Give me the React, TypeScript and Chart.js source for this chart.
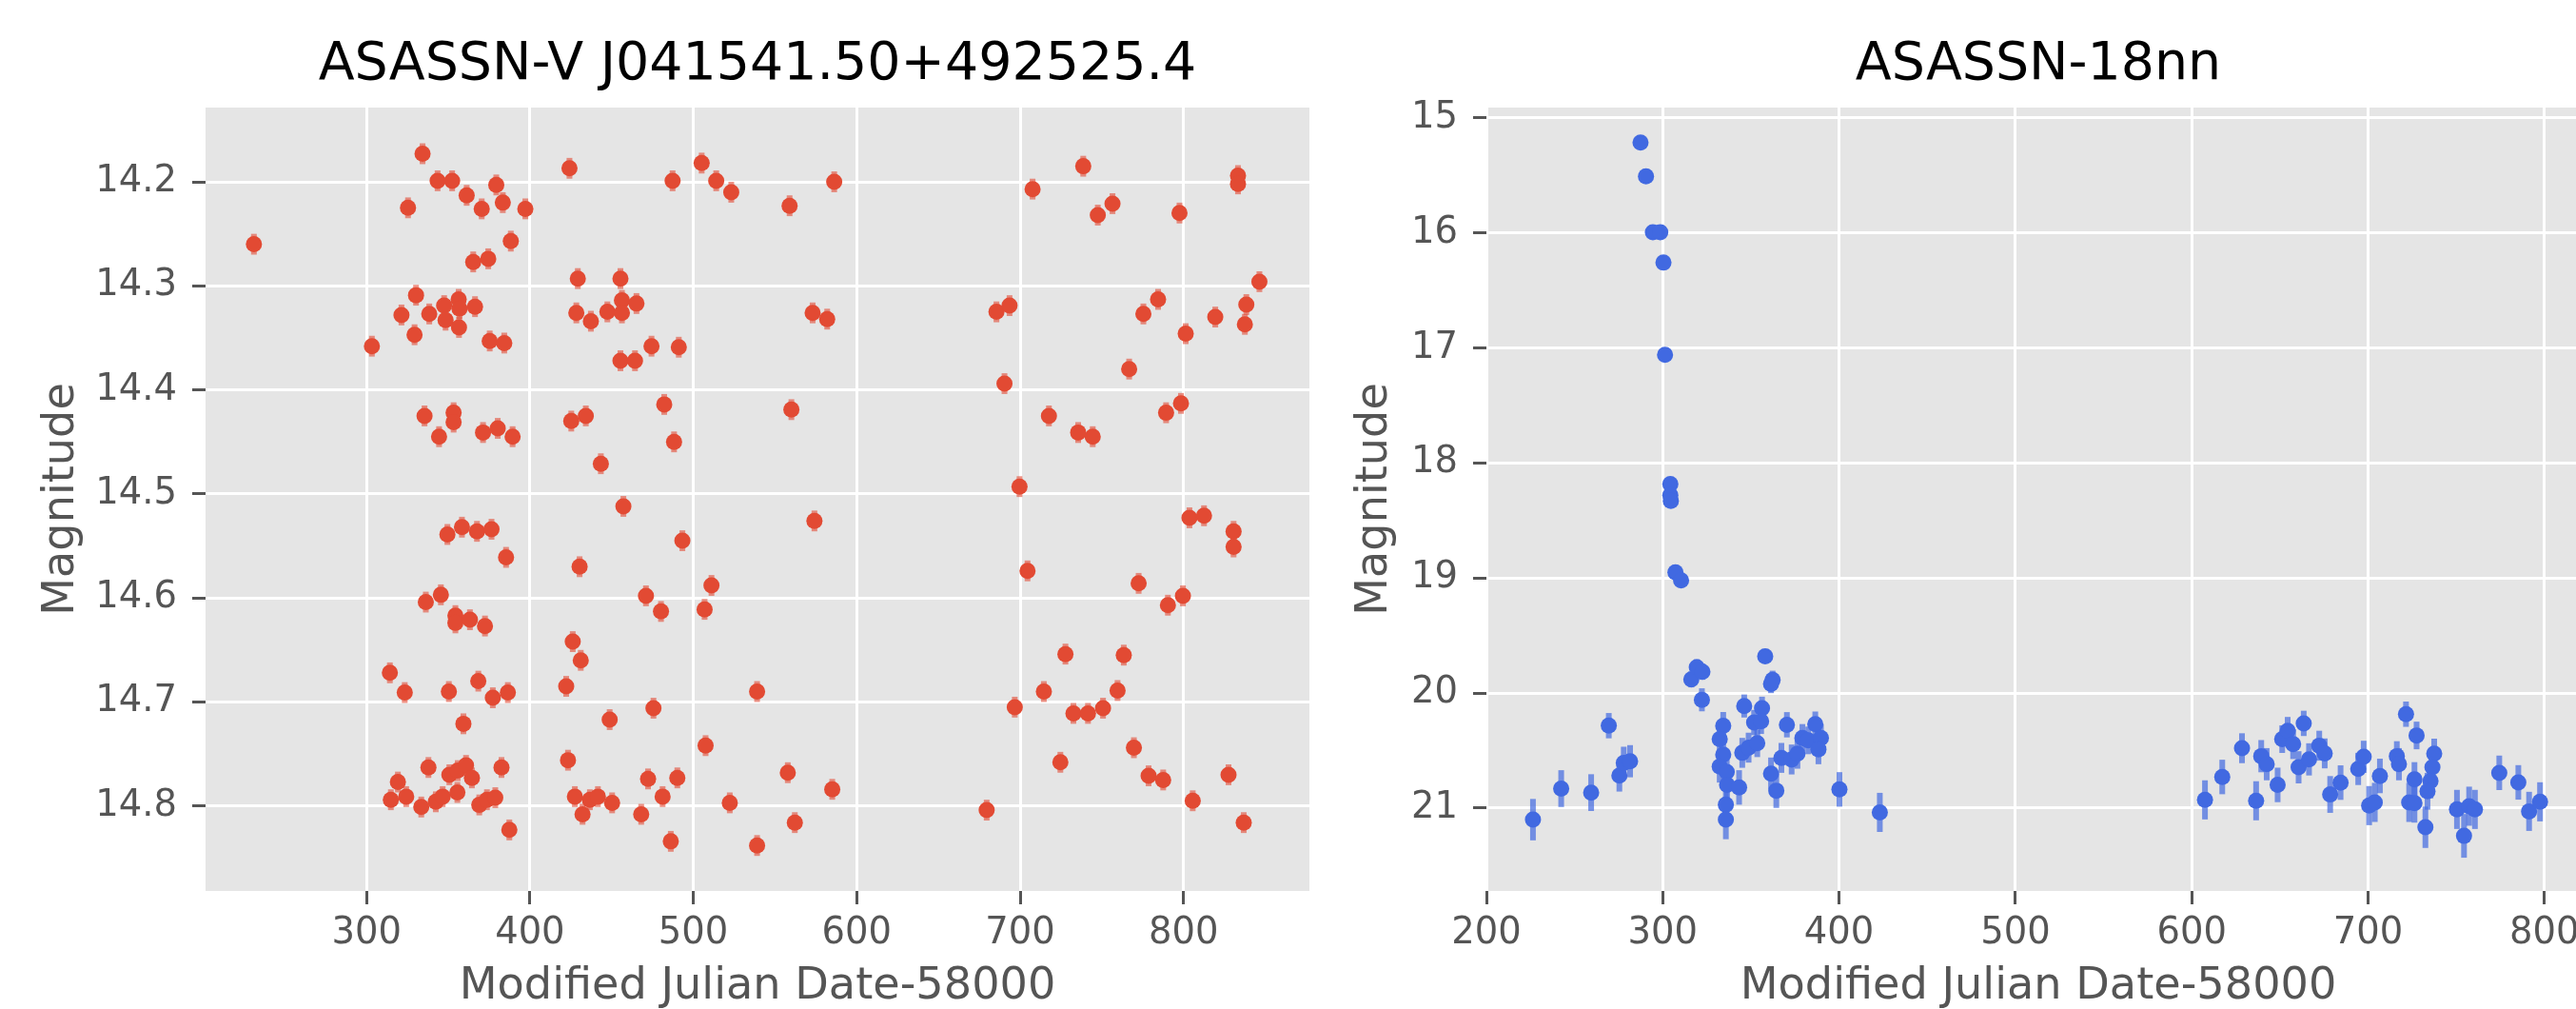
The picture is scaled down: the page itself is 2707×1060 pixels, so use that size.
import React, { useEffect, useRef } from 'react';
import { Chart, registerables } from 'chart.js';

Chart.register(...registerables);

// ---------- text ----------
const leftTitle = 'ASASSN-V J041541.50+492525.4';
const rightTitle = 'ASASSN-18nn';
const xLabel = 'Modified Julian Date-58000';
const yLabel = 'Magnitude';

// ---------- left panel data ----------
const leftMjd = [
  231.1, 334.3, 325.4, 343.5, 352.4, 361.3, 370.5, 379.4, 383.4, 397.2,
  388.3, 365.3, 374.5, 424.2, 429.3, 455.4, 487.3, 505.1, 514.0, 523.2,
  330.3, 321.4, 338.4, 347.5, 356.4, 356.9, 366.4, 348.4, 329.4, 356.6,
  303.3, 375.4, 384.3, 428.4, 437.3, 447.4, 456.3, 456.3, 465.2, 455.4,
  464.3, 474.4, 491.1, 335.5, 353.3, 353.3, 344.4, 371.3, 380.3, 389.4,
  425.3, 434.2, 443.4, 482.2, 488.2, 558.9, 586.2, 707.6, 738.6, 747.5,
  756.5, 797.5, 833.3, 833.3, 846.4, 573.0, 581.9, 685.5, 693.5, 775.4,
  784.4, 819.4, 838.4, 837.5, 801.3, 766.7, 690.4, 560.0, 717.6, 735.5,
  744.4, 789.3, 798.4, 699.6,
  457.2, 349.5, 358.4, 367.6, 376.5, 385.4, 430.4, 493.3, 511.1, 471.0,
  480.2, 506.9, 336.3, 345.5, 354.4, 354.4, 363.3, 372.5, 426.2, 431.1,
  314.3, 323.4, 350.4, 368.4, 377.3, 386.5, 422.2, 539.0, 359.3, 448.8,
  475.6, 507.5, 337.9, 319.2, 314.9, 324.3, 333.5, 342.4, 346.6, 350.7,
  355.8, 360.9, 364.5, 355.6, 369.0, 373.7, 378.8, 382.6, 387.4, 423.3,
  427.5, 432.2, 436.7, 441.6, 450.3, 468.1, 472.3, 481.2, 490.2, 486.2,
  522.3, 539.0,
  574.1, 803.6, 812.5, 830.6, 830.6, 704.5, 772.5, 799.6, 790.4, 727.7,
  763.4, 714.5, 759.6, 696.7, 732.6, 741.5, 750.7, 769.6, 724.6, 778.6,
  787.5, 827.5, 805.6, 836.8, 557.8, 562.1, 585.0, 679.5,
];
const leftMag = [
  14.260, 14.173, 14.225, 14.199, 14.199, 14.213, 14.226, 14.203, 14.220, 14.226,
  14.257, 14.277, 14.274, 14.187, 14.293, 14.293, 14.199, 14.182, 14.199, 14.210,
  14.309, 14.328, 14.327, 14.319, 14.313, 14.322, 14.320, 14.333, 14.347, 14.340,
  14.358, 14.353, 14.355, 14.326, 14.334, 14.325, 14.314, 14.326, 14.317, 14.372,
  14.372, 14.358, 14.359, 14.425, 14.422, 14.431, 14.445, 14.441, 14.437, 14.445,
  14.430, 14.425, 14.471, 14.414, 14.450, 14.223, 14.200, 14.207, 14.185, 14.232,
  14.221, 14.230, 14.194, 14.202, 14.296, 14.326, 14.332, 14.325, 14.319, 14.327,
  14.313, 14.330, 14.318, 14.337, 14.346, 14.380, 14.394, 14.419, 14.425, 14.441,
  14.445, 14.422, 14.413, 14.493,
  14.512, 14.539, 14.532, 14.536, 14.534, 14.561, 14.570, 14.545, 14.588, 14.598,
  14.613, 14.611, 14.604, 14.597, 14.617, 14.624, 14.621, 14.627, 14.642, 14.660,
  14.672, 14.691, 14.690, 14.680, 14.696, 14.691, 14.685, 14.690, 14.721, 14.717,
  14.706, 14.742, 14.763, 14.777, 14.794, 14.791, 14.801, 14.796, 14.791, 14.770,
  14.766, 14.761, 14.773, 14.787, 14.799, 14.794, 14.792, 14.763, 14.823, 14.756,
  14.791, 14.808, 14.794, 14.791, 14.797, 14.808, 14.774, 14.791, 14.773, 14.834,
  14.797, 14.838,
  14.526, 14.523, 14.521, 14.536, 14.551, 14.574, 14.586, 14.598, 14.607, 14.654,
  14.655, 14.690, 14.689, 14.705, 14.711, 14.711, 14.706, 14.744, 14.758, 14.771,
  14.775, 14.770, 14.795, 14.816, 14.768, 14.816, 14.784, 14.804,
];
const leftErr = [
  0.010, 0.010, 0.010, 0.010, 0.010, 0.010, 0.010, 0.010, 0.010, 0.010,
  0.010, 0.010, 0.010, 0.010, 0.010, 0.010, 0.010, 0.010, 0.010, 0.010,
  0.010, 0.010, 0.010, 0.010, 0.010, 0.010, 0.010, 0.010, 0.010, 0.010,
  0.010, 0.010, 0.010, 0.010, 0.010, 0.010, 0.010, 0.010, 0.010, 0.010,
  0.010, 0.010, 0.010, 0.010, 0.010, 0.010, 0.010, 0.010, 0.010, 0.010,
  0.010, 0.010, 0.010, 0.010, 0.010, 0.010, 0.010, 0.010, 0.010, 0.010,
  0.010, 0.010, 0.010, 0.010, 0.010, 0.010, 0.010, 0.010, 0.010, 0.010,
  0.010, 0.010, 0.010, 0.010, 0.010, 0.010, 0.010, 0.010, 0.010, 0.010,
  0.010, 0.010, 0.010, 0.010,
  0.010, 0.010, 0.010, 0.010, 0.010, 0.010, 0.010, 0.010, 0.010, 0.010,
  0.010, 0.010, 0.010, 0.010, 0.010, 0.010, 0.010, 0.010, 0.010, 0.010,
  0.010, 0.010, 0.010, 0.010, 0.010, 0.010, 0.010, 0.010, 0.010, 0.010,
  0.010, 0.010, 0.010, 0.010, 0.010, 0.010, 0.010, 0.010, 0.010, 0.010,
  0.010, 0.010, 0.010, 0.010, 0.010, 0.010, 0.010, 0.010, 0.010, 0.010,
  0.010, 0.010, 0.010, 0.010, 0.010, 0.010, 0.010, 0.010, 0.010, 0.010,
  0.010, 0.010,
  0.010, 0.010, 0.010, 0.010, 0.010, 0.010, 0.010, 0.010, 0.010, 0.010,
  0.010, 0.010, 0.010, 0.010, 0.010, 0.010, 0.010, 0.010, 0.010, 0.010,
  0.010, 0.010, 0.010, 0.010, 0.010, 0.010, 0.010, 0.010,
];
const leftXTicks = [300, 400, 500, 600, 700, 800];
const leftYTicks = [14.2, 14.3, 14.4, 14.5, 14.6, 14.7, 14.8];

// ---------- right panel data ----------
const rightMjd = [
  287.4, 290.5, 294.4, 298.6, 300.4, 301.3, 304.3, 304.3, 304.6, 307.2,
  310.4, 226.4, 242.4, 259.4, 269.4, 275.4, 277.9, 281.5, 316.2, 319.3,
  322.5, 322.2, 358.1, 362.3, 361.4, 346.2, 356.3, 334.3, 332.3, 334.3,
  332.3, 336.3, 336.5, 343.3, 335.8, 335.8, 351.8, 355.8, 345.1, 348.7,
  353.6, 361.4, 364.4, 367.3, 373.1, 376.4, 370.4, 379.2, 382.5, 386.5,
  389.7, 388.3, 400.2, 423.1,
  607.5, 617.3, 628.5, 636.5, 639.4, 642.5, 648.7, 651.3, 654.4, 657.5,
  660.6, 663.5, 666.5, 672.3, 675.4, 678.5, 684.4, 694.4, 697.5, 700.6,
  703.8, 706.7, 716.3, 717.5, 721.5, 727.5, 723.3, 726.3, 726.3, 737.5,
  736.5, 735.4, 733.7, 732.5, 750.4, 757.3, 760.6, 754.4, 774.4, 785.2,
  791.3, 797.5,
];
const rightMag = [
  15.213, 15.508, 15.994, 15.994, 16.257, 17.058, 18.182, 18.28, 18.33, 18.95,
  19.02, 21.10, 20.83, 20.865, 20.283, 20.716, 20.606, 20.592, 19.88, 19.775,
  19.814, 20.058, 19.68, 19.885, 19.92, 20.112, 20.131, 20.284, 20.40, 20.535,
  20.638, 20.685, 20.798, 20.82, 20.97, 21.10, 20.256, 20.245, 20.519, 20.474,
  20.436, 20.70, 20.848, 20.563, 20.577, 20.527, 20.275, 20.389, 20.411, 20.27,
  20.389, 20.488, 20.837, 21.037,
  20.928, 20.729, 20.479, 20.936, 20.548, 20.618, 20.798, 20.40, 20.327, 20.443,
  20.645, 20.263, 20.576, 20.457, 20.524, 20.881, 20.778, 20.659, 20.554, 20.978,
  20.95, 20.72, 20.548, 20.618, 20.183, 20.368, 20.95, 20.956, 20.75, 20.526,
  20.645, 20.765, 20.853, 21.166, 21.011, 20.983, 21.011, 21.241, 20.693, 20.776,
  21.028, 20.945,
];
const rightErr = [
  0.01, 0.01, 0.01, 0.01, 0.015, 0.02, 0.03, 0.03, 0.03, 0.04,
  0.04, 0.18, 0.16, 0.16, 0.11, 0.14, 0.14, 0.14, 0.07, 0.07,
  0.07, 0.10, 0.05, 0.08, 0.08, 0.10, 0.10, 0.12, 0.12, 0.13,
  0.14, 0.14, 0.15, 0.15, 0.16, 0.17, 0.11, 0.11, 0.13, 0.13,
  0.12, 0.14, 0.15, 0.13, 0.13, 0.13, 0.11, 0.12, 0.12, 0.11,
  0.12, 0.13, 0.15, 0.17,
  0.17, 0.15, 0.13, 0.17, 0.14, 0.14, 0.15, 0.12, 0.12, 0.13,
  0.14, 0.11, 0.14, 0.13, 0.13, 0.16, 0.15, 0.14, 0.14, 0.17,
  0.17, 0.15, 0.13, 0.14, 0.11, 0.12, 0.17, 0.17, 0.15, 0.13,
  0.14, 0.15, 0.16, 0.18, 0.17, 0.17, 0.17, 0.19, 0.15, 0.15,
  0.17, 0.17,
];
const rightXTicks = [200, 300, 400, 500, 600, 700, 800];
const rightYTicks = [15, 16, 17, 18, 19, 20, 21];

// ---------- styling ----------
const FONT = 'DejaVu Sans';
const GRAY_TEXT = '#555555';
const PANEL_BG = '#E5E5E5';

const panelBgPlugin = {
  id: 'panelBg',
  beforeDraw(chart: any, _args: any, opts: any) {
    const { ctx, chartArea: a } = chart;
    ctx.save();
    ctx.fillStyle = opts.color || PANEL_BG;
    ctx.fillRect(a.left, a.top, a.right - a.left, a.bottom - a.top);
    ctx.restore();
  },
};

const errorBarPlugin = {
  id: 'errorBars',
  beforeDatasetsDraw(chart: any, _args: any, opts: any) {
    const { ctx, chartArea: a, scales } = chart;
    const errs: number[] = opts.errors || [];
    const ds = chart.data.datasets[0];
    if (!ds) return;
    ctx.save();
    ctx.beginPath();
    ctx.rect(a.left, a.top, a.right - a.left, a.bottom - a.top);
    ctx.clip();
    ctx.strokeStyle = opts.color;
    ctx.lineWidth = opts.width;
    ctx.lineCap = 'butt';
    (ds.data as any[]).forEach((p, i) => {
      const e = errs[i] || 0;
      const x = scales.x.getPixelForValue(p.x);
      const y1 = scales.y.getPixelForValue(p.y - e);
      const y2 = scales.y.getPixelForValue(p.y + e);
      ctx.beginPath();
      ctx.moveTo(x, y1);
      ctx.lineTo(x, y2);
      ctx.stroke();
    });
    ctx.restore();
  },
};

type PanelProps = {
  left: number;
  width: number;
  height: number;
  title: string;
  xs: number[];
  ys: number[];
  errs: number[];
  xTicks: number[];
  yTicks: number[];
  xMin: number;
  xMax: number;
  yMin: number;
  yMax: number;
  color: string;
  errColor: string;
  yAxisWidth: number;
  yTitlePad: number;
  rightPad: number;
  yDecimals: number;
};

function Panel(p: PanelProps) {
  const ref = useRef<HTMLCanvasElement | null>(null);
  useEffect(() => {
    if (!ref.current) return;
    const points = p.xs.map((x, i) => ({ x, y: p.ys[i] }));
    const chart = new Chart(ref.current, {
      type: 'scatter',
      data: {
        datasets: [
          {
            data: points,
            pointRadius: 8.5,
            pointHoverRadius: 8.5,
            pointBackgroundColor: p.color,
            pointBorderWidth: 0,
            pointBorderColor: p.color,
            showLine: false,
          },
        ],
      },
      options: {
        responsive: false,
        animation: false,
        devicePixelRatio: 1,
        events: [],
        layout: { padding: { left: 0, right: p.rightPad, top: 0, bottom: 0 } },
        plugins: {
          legend: { display: false },
          tooltip: { enabled: false },
          title: {
            display: true,
            fullSize: false,
            align: 'center',
            text: p.title,
            color: '#000000',
            font: { family: FONT, size: 55.4, weight: 'normal', lineHeight: 1.2 },
            padding: { top: 35.2, bottom: 11.3 },
          },
          panelBg: { color: PANEL_BG },
          errorBars: { errors: p.errs, color: p.errColor, width: 6 },
        } as any,
        scales: {
          x: {
            type: 'linear',
            min: p.xMin,
            max: p.xMax,
            afterBuildTicks: (scale: any) => {
              scale.ticks = p.xTicks.map((v) => ({ value: v }));
            },
            afterFit: (scale: any) => {
              scale.height = 124;
            },
            ticks: {
              autoSkip: false,
              maxRotation: 0,
              color: GRAY_TEXT,
              font: { family: FONT, size: 38.5 },
              padding: 7.9,
              callback: (v: any) => String(v),
            },
            grid: {
              color: '#FFFFFF',
              lineWidth: 3,
              drawTicks: true,
              tickLength: 14,
              tickWidth: 3,
              tickColor: GRAY_TEXT,
            },
            border: { display: false },
            title: {
              display: true,
              text: xLabel,
              color: GRAY_TEXT,
              font: { family: FONT, size: 46.2, lineHeight: 1.0 },
              padding: { top: 0, bottom: 0 },
            },
          },
          y: {
            type: 'linear',
            reverse: true,
            min: p.yMin,
            max: p.yMax,
            afterBuildTicks: (scale: any) => {
              scale.ticks = p.yTicks.map((v) => ({ value: v }));
            },
            afterFit: (scale: any) => {
              scale.width = p.yAxisWidth;
            },
            ticks: {
              autoSkip: false,
              color: GRAY_TEXT,
              font: { family: FONT, size: 38.5 },
              padding: 16,
              callback: (v: any) => Number(v).toFixed(p.yDecimals),
            },
            grid: {
              color: '#FFFFFF',
              lineWidth: 3,
              drawTicks: true,
              tickLength: 14,
              tickWidth: 3,
              tickColor: GRAY_TEXT,
            },
            border: { display: false },
            title: {
              display: true,
              text: yLabel,
              color: GRAY_TEXT,
              font: { family: FONT, size: 46.2, lineHeight: 1.2 },
              padding: { top: p.yTitlePad, bottom: 0 },
            },
          },
        },
      } as any,
      plugins: [panelBgPlugin, errorBarPlugin],
    });
    return () => chart.destroy();
  }, []);
  return (
    <canvas
      ref={ref}
      width={p.width}
      height={p.height}
      style={{ position: 'absolute', left: p.left, top: 0, width: p.width, height: p.height }}
    />
  );
}

export default function App() {
  return (
    <div
      style={{
        position: 'fixed',
        left: 0,
        top: 0,
        width: 2707,
        height: 1060,
        overflow: 'hidden',
        background: '#FFFFFF',
      }}
    >
      <Panel
        left={0}
        width={1400}
        height={1060}
        title={leftTitle}
        xs={leftMjd}
        ys={leftMag}
        errs={leftErr}
        xTicks={leftXTicks}
        yTicks={leftYTicks}
        xMin={201.5}
        xMax={877}
        yMin={14.1286}
        yMax={14.8817}
        color="#E24A33"
        errColor="rgba(226,74,51,0.6)"
        yAxisWidth={216}
        yTitlePad={37.3}
        rightPad={24}
        yDecimals={1}
      />
      <Panel
        left={1390}
        width={1356}
        height={1060}
        title={rightTitle}
        xs={rightMjd}
        ys={rightMag}
        errs={rightErr}
        xTicks={rightXTicks}
        yTicks={rightYTicks}
        xMin={200}
        xMax={826}
        yMin={14.909}
        yMax={21.72}
        color="#4169E1"
        errColor="rgba(65,105,225,0.7)"
        yAxisWidth={172}
        yTitlePad={27.3}
        rightPad={24}
        yDecimals={0}
      />
    </div>
  );
}
